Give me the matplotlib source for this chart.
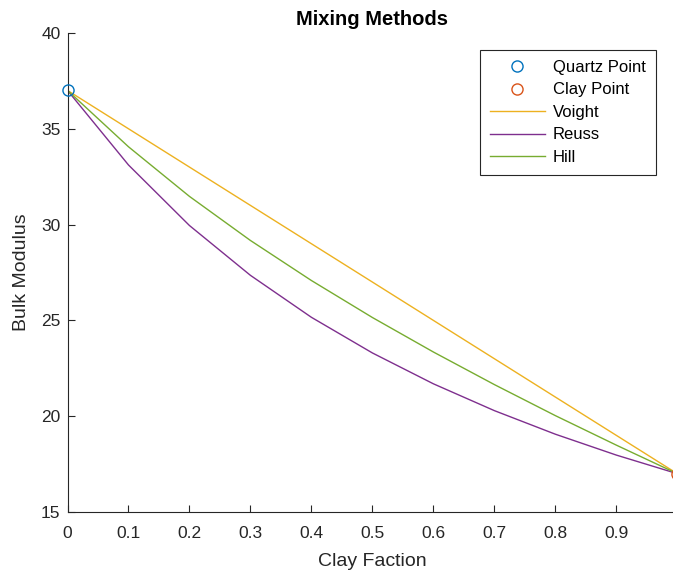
import matplotlib.pyplot as plt

plt.rcParams['font.family'] = ['Liberation Sans', 'DejaVu Sans']

clay_frac = [0.0, 0.1, 0.2, 0.3, 0.4, 0.5, 0.6, 0.7, 0.8, 0.9, 1.0]
voight = [37.0, 35.0, 33.0, 31.0, 29.0, 27.0, 25.0, 23.0, 21.0, 19.0, 17.0]
reuss = [37.0, 33.11, 29.95, 27.35, 25.16, 23.30, 21.69, 20.29, 19.06, 17.97, 17.0]
hill = [37.0, 34.06, 31.47, 29.17, 27.08, 25.15, 23.35, 21.65, 20.03, 18.49, 17.0]
quartz_pt = (0.0, 37.0)
clay_pt = (1.0, 17.0)

fig = plt.figure(figsize=(6.73, 5.73), dpi=100)
ax = fig.add_axes([0.1003, 0.1065, 0.906, 0.836])

ax.plot(*quartz_pt, 'o', mfc='none', mec='#0072BD', ms=8, mew=1.0, label='Quartz Point', clip_on=False, zorder=5)
ax.plot(*clay_pt, 'o', mfc='none', mec='#D95319', ms=8, mew=1.0, label='Clay Point', clip_on=False, zorder=5)
ax.plot(clay_frac, voight, color='#EDB120', lw=1.0, label='Voight')
ax.plot(clay_frac, reuss, color='#7E2F8E', lw=1.0, label='Reuss')
ax.plot(clay_frac, hill, color='#77AC30', lw=1.0, label='Hill')

ax.set_xlim(0, 1)
ax.set_ylim(15, 40)
ax.set_xticks([0, 0.1, 0.2, 0.3, 0.4, 0.5, 0.6, 0.7, 0.8, 0.9, 1])
ax.set_xticklabels(['0', '0.1', '0.2', '0.3', '0.4', '0.5', '0.6', '0.7', '0.8', '0.9', '1'])
ax.set_yticks([15, 20, 25, 30, 35, 40])
for s in ['top', 'right']:
    ax.spines[s].set_visible(False)
for s in ['left', 'bottom']:
    ax.spines[s].set_color('#262626')
    ax.spines[s].set_linewidth(0.8)
ax.tick_params(direction='in', length=5, width=0.8, colors='#262626', labelsize=12.5)
ax.tick_params(axis='x', pad=10)
ax.tick_params(axis='y', pad=5)

ax.set_xlabel('Clay Faction', fontsize=14, color='#262626', labelpad=9)
ax.set_ylabel('Bulk Modulus', fontsize=14, color='#262626', labelpad=8)
ax.set_title('Mixing Methods', fontsize=14.5, fontweight='bold', color='black', pad=6)

leg = ax.legend(loc='upper right', bbox_to_anchor=(0.965, 0.9645), borderaxespad=0,
                fontsize=12, frameon=True, fancybox=False, edgecolor='#262626', framealpha=1,
                handlelength=3.3, handletextpad=0.5, labelspacing=0.45, borderpad=0.6)
leg.get_frame().set_linewidth(0.8)

plt.savefig('out.png', dpi=100)
